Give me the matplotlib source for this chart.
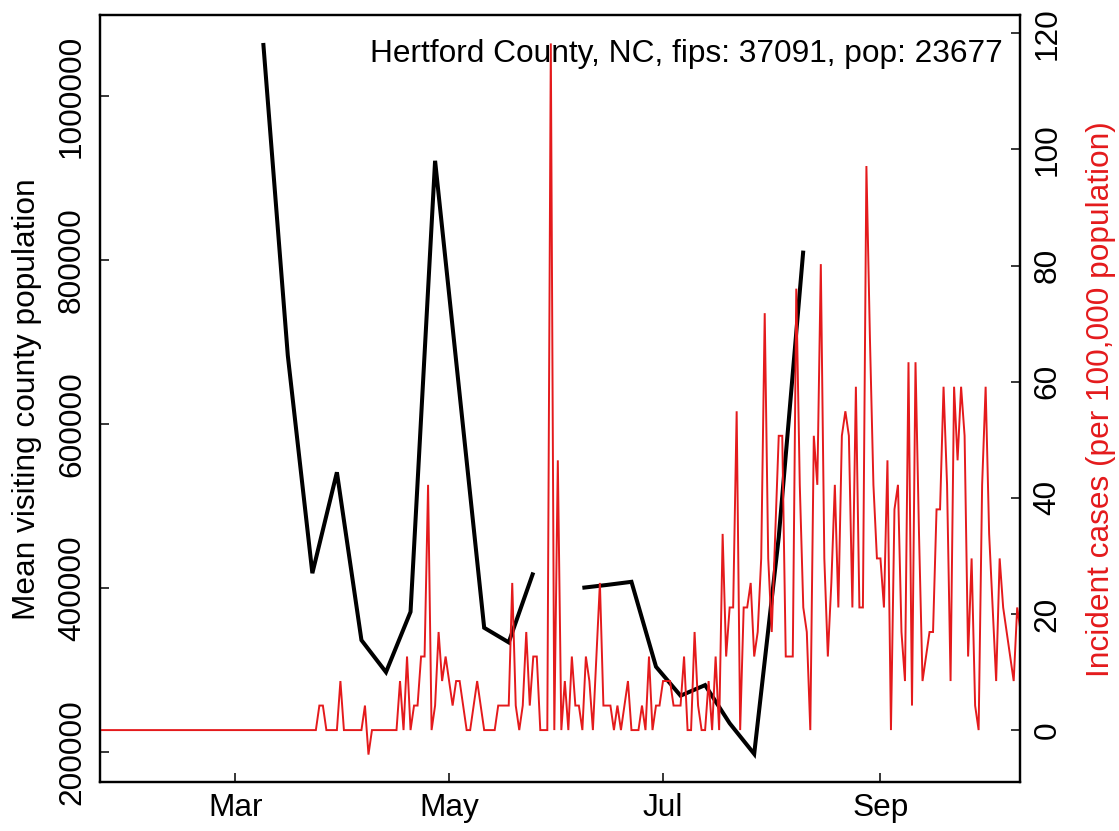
import numpy as np
import pandas as pd
import matplotlib
matplotlib.use("Agg")
import matplotlib.pyplot as plt
import matplotlib.dates as mdates
from matplotlib.ticker import FixedLocator, FuncFormatter

plt.rcParams['font.family'] = ['Liberation Sans', 'DejaVu Sans']

# ---------------- data ----------------
county_label = "Hertford County, NC, fips: 37091, pop: 23677"
county_pop = 23677

# weekly mean visiting county population (NaN = missing week)
mobility_start = "2020-03-09"
mean_visiting_pop = [1064500, 683500, 418200, 541200, 336600, 297600, 371100,
                     920900, 636400, 351700, 333900, 419100, np.nan, 400400,
                     403900, 407700, 304200, 268900, 281800, 235300, 197900,
                     462100, 811400]

# daily new cases, starting 2020-01-22
case_start = "2020-01-22"
cases_jan = [0, 0, 0, 0, 0, 0, 0, 0, 0, 0]
cases_feb = [0, 0, 0, 0, 0, 0, 0, 0, 0, 0, 0, 0, 0, 0, 0, 0, 0, 0, 0, 0,
             0, 0, 0, 0, 0, 0, 0, 0, 0]
cases_mar = [0, 0, 0, 0, 0, 0, 0, 0, 0, 0, 0, 0, 0, 0, 0, 0, 0, 0, 0, 0,
             0, 0, 0, 0, 1, 1, 0, 0, 0, 0, 2]
cases_apr = [0, 0, 0, 0, 0, 0, 1, -1, 0, 0, 0, 0, 0, 0, 0, 0, 2, 0, 3, 0,
             1, 1, 3, 3, 10, 0, 1, 4, 2, 3]
cases_may = [2, 1, 2, 2, 1, 0, 0, 1, 2, 1, 0, 0, 0, 0, 1, 1, 1, 1, 6, 1,
             0, 1, 4, 1, 3, 3, 0, 0, 0, 28, 0]
cases_jun = [11, 0, 2, 0, 3, 1, 1, 0, 3, 2, 0, 3, 6, 1, 1, 1, 0, 1, 0, 1,
             2, 0, 0, 0, 1, 0, 3, 0, 1, 1]
cases_jul = [2, 2, 2, 1, 1, 1, 3, 0, 0, 4, 1, 0, 0, 2, 0, 3, 0, 8, 3, 5,
             5, 13, 0, 5, 5, 6, 3, 4, 7, 17, 7]
cases_aug = [4, 8, 12, 12, 3, 3, 3, 18, 10, 5, 4, 0, 12, 10, 19, 7, 3, 6, 10, 5,
             12, 13, 12, 5, 14, 5, 5, 23, 16, 10, 7]
cases_sep = [7, 5, 11, 0, 9, 10, 4, 2, 15, 1, 15, 8, 2, 3, 4, 4, 9, 9, 14, 10,
             2, 14, 11, 14, 12, 3, 7, 1, 0, 10]
cases_oct = [14, 8, 5, 2, 7, 5, 4, 3, 2, 5, 4]

left_ticks = [200000, 400000, 600000, 800000, 1000000]
right_ticks = [0, 20, 40, 60, 80, 100, 120]
month_ticks = ["2020-03-01", "2020-05-01", "2020-07-01", "2020-09-01"]
month_labels = ["Mar", "May", "Jul", "Sep"]

daily_new_cases = (cases_jan + cases_feb + cases_mar + cases_apr + cases_may +
                   cases_jun + cases_jul + cases_aug + cases_sep + cases_oct)
case_dates = pd.date_range(case_start, periods=len(daily_new_cases), freq="D")
incidence = np.array(daily_new_cases, dtype=float) / county_pop * 1e5
mobility_dates = pd.date_range(mobility_start, periods=len(mean_visiting_pop), freq="7D")

# ---------------- figure ----------------
W, H = 1119, 831
fig = plt.figure(figsize=(W / 100, H / 100), dpi=100)
L, R, T, B = 99.5, 1020, 15, 782
ax = fig.add_axes([L / W, 1 - B / H, (R - L) / W, (B - T) / H])
ax2 = ax.twinx()

red = "#E41A1C"
fs = 22.8

ax.plot(mobility_dates, mean_visiting_pop, color="black", lw=2.9,
        solid_joinstyle="miter", solid_capstyle="butt")
ax2.plot(case_dates, incidence, color=red, lw=1.4, solid_joinstyle="miter")

mar1 = pd.Timestamp("2020-03-01")
ax.set_xlim(mar1 + pd.Timedelta(days=-38.7), mar1 + pd.Timedelta(days=223.8))
ax.set_ylim(163700, 1098600)
ax2.set_ylim(-8.94, 123.15)

ax.xaxis.set_major_locator(FixedLocator(mdates.date2num(pd.to_datetime(month_ticks))))
ax.set_xticklabels(month_labels)

ax.yaxis.set_major_locator(FixedLocator(left_ticks))
ax.yaxis.set_major_formatter(FuncFormatter(lambda v, p: "%d" % v))
ax2.yaxis.set_major_locator(FixedLocator(right_ticks))
ax2.yaxis.set_major_formatter(FuncFormatter(lambda v, p: "%d" % v))

for a in (ax, ax2):
    for s in a.spines.values():
        s.set_linewidth(1.6)
ax.tick_params(axis="both", direction="in", length=6.2, width=1.1,
               labelsize=fs, color="black")
ax.tick_params(axis="x", pad=8)
ax.tick_params(axis="y", pad=9, labelrotation=90)
ax2.tick_params(axis="y", direction="in", length=6.2, width=1.1,
                labelsize=fs, pad=9, labelrotation=90)
for lab in ax.get_yticklabels():
    lab.set_va("center")
for lab in ax2.get_yticklabels():
    lab.set_va("center")

fig.text(27 / W, 1 - 399 / H, "Mean visiting county population", rotation=90,
         ha="center", va="center", fontsize=fs, color="black")
fig.text(1101 / W, 1 - 399 / H, "Incident cases (per 100,000 population)",
         rotation=90, ha="center", va="center", fontsize=fs, color=red)
fig.text(1003 / W, 1 - 54 / H, county_label, ha="right", va="center",
         fontsize=fs, color="black")

fig.savefig("out.png", dpi=100)
